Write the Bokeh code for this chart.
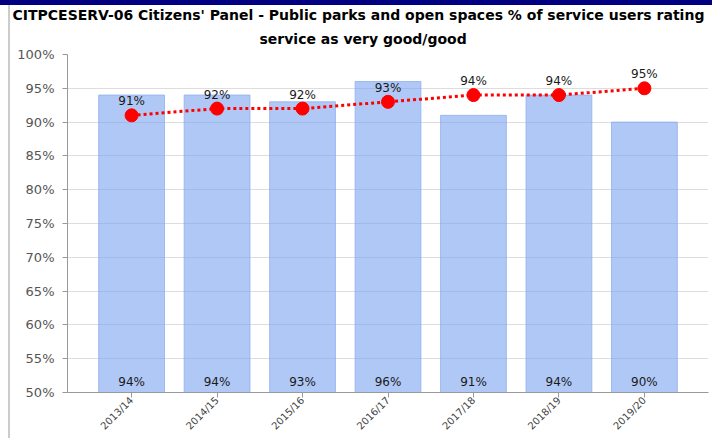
import math
from bokeh.plotting import figure
from bokeh.models import (ColumnDataSource, Range1d, FixedTicker, PrintfTickFormatter,
                          Div, LabelSet, Title)
from bokeh.layouts import column, row
from bokeh.embed import file_html
from bokeh.resources import INLINE
from bokeh.core.properties import value

# ---- data ----
years = ["2013/14", "2014/15", "2015/16", "2016/17", "2017/18", "2018/19", "2019/20"]
bar_values = [94, 94, 93, 96, 91, 94, 90]
line_values = [91, 92, 92, 93, 94, 94, 95]
y_ticks = [50, 55, 60, 65, 70, 75, 80, 85, 90, 95, 100]
title_line1 = "CITPCESERV-06 Citizens' Panel -  Public parks and open spaces % of service users rating"
title_line2 = "service as very good/good"

xs = list(range(len(years)))
src = ColumnDataSource(dict(
    x=xs,
    bar=bar_values,
    line=line_values,
    base=[50] * len(years),
    bar_lbl=[f"{v}%" for v in bar_values],
    line_lbl=[f"{v}%" for v in line_values],
))

p = figure(width=702, height=433, output_backend="svg", toolbar_location=None,
           x_range=Range1d(-0.75, len(years) - 0.25), y_range=Range1d(50, 100),
           min_border_left=57, min_border_right=4, min_border_top=49, min_border_bottom=40,
           margin=0)

p.title.text = title_line1
p.title.align = "left"
p.title.offset = -55
p.title.text_font = "DejaVu Sans"
p.title.text_font_size = "14px"
p.title.text_font_style = "bold"
p.title.text_color = "#000000"
p.title.standoff = -4
p.add_layout(Title(text=title_line2, align="left", offset=192, text_font="DejaVu Sans",
                   text_font_size="14px", text_font_style="bold", text_color="#000000",
                   standoff=16), "above")
p.outline_line_color = None

# bars
p.vbar(x="x", top="bar", bottom="base", width=0.77, source=src,
       fill_color="#7ba3ef", fill_alpha=0.6, line_color="#8fb0f0", line_alpha=0.8)

# line
p.line(x="x", y="line", source=src, line_color="#ff0000", line_width=3, line_dash="3 3")
p.scatter(x="x", y="line", source=src, size=13, fill_color="#ff0000", line_color="#ff0000")

# labels
p.add_layout(LabelSet(x="x", y="base", text="bar_lbl", source=src, text_align="center",
                      text_baseline="bottom", y_offset=4, text_font=value("DejaVu Sans"),
                      text_font_size="12px", text_color="#1a1a1a"))
p.add_layout(LabelSet(x="x", y="line", text="line_lbl", source=src, text_align="center",
                      text_baseline="bottom", y_offset=7, text_font=value("DejaVu Sans"),
                      text_font_size="12px", text_color="#1a1a1a"))

# axes
p.xaxis.ticker = FixedTicker(ticks=xs)
p.xaxis.major_label_overrides = {i: y for i, y in enumerate(years)}
p.xaxis.major_label_orientation = math.pi / 4
p.xaxis.major_label_text_font = "DejaVu Sans"
p.xaxis.major_label_text_font_size = "10px"
p.xaxis.major_label_text_color = "#444444"
p.xaxis.major_label_standoff = 1
p.yaxis.ticker = FixedTicker(ticks=y_ticks)
p.yaxis.formatter = PrintfTickFormatter(format="%d%%")
p.yaxis.major_label_text_font = "DejaVu Sans"
p.yaxis.major_label_text_font_size = "13px"
p.yaxis.major_label_text_color = "#555555"
p.yaxis.major_label_standoff = 8
for ax in (p.xaxis, p.yaxis):
    ax.axis_line_color = "#999999"
    ax.major_tick_line_color = "#999999"
    ax.major_tick_out = 5
    ax.major_tick_in = 0
    ax.minor_tick_line_color = None

p.xgrid.grid_line_color = None
p.ygrid.grid_line_color = "#dddddd"
p.ygrid.ticker = FixedTicker(ticks=y_ticks)

top_bar = Div(text="", width=712, height=5, margin=0, styles={"background-color": "#000080"})
left_space = Div(text="", width=8, height=433, margin=0)
left_bar = Div(text="", width=2, height=433, margin=0, styles={"background-color": "#cccccc"})
layout = column(top_bar, row(left_space, left_bar, p, spacing=0, margin=0), spacing=0, margin=0)

open("out.html", "w").write(file_html(layout, INLINE))
